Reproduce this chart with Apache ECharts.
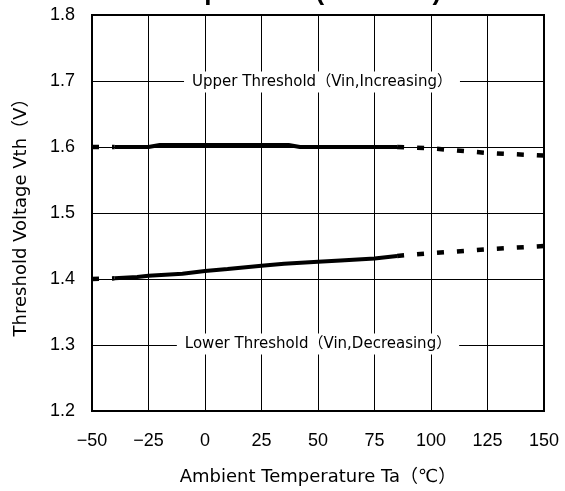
<!DOCTYPE html>
<html><head><meta charset="utf-8">
<script src="https://cdn.jsdelivr.net/npm/echarts@6/dist/echarts.min.js"></script>
<style>html,body{margin:0;padding:0;background:#fff}#c{width:565px;height:491px}</style>
</head><body><div id="c"></div>
<script>
// Data
const xTicks = [-50, -25, 0, 25, 50, 75, 100, 125, 150];
const yTicks = [1.2, 1.3, 1.4, 1.5, 1.6, 1.7, 1.8];
const startTemps = [-50, -40];
const upperStart = [1.600, 1.600];
const lowerStart = [1.400, 1.401];
const upperTemps = [-40, -25, -20, 0, 25, 37, 42, 60, 85];
const upperSolid = [1.600, 1.600, 1.603, 1.603, 1.603, 1.603, 1.600, 1.600, 1.600];
const lowerTemps = [-40, -30, -25, -10, 0, 10, 25, 35, 50, 60, 75, 85];
const lowerSolid = [1.401, 1.403, 1.405, 1.408, 1.412, 1.415, 1.420, 1.423, 1.426, 1.428, 1.431, 1.435];
const extTemps = [85, 100, 125, 150];
const upperExt = [1.600, 1.598, 1.591, 1.587];
const lowerExt = [1.435, 1.439, 1.445, 1.450];
const labelUpper = 'Upper Threshold（Vin,Increasing）';
const labelLower = 'Lower Threshold（Vin,Decreasing）';

const pair = (xs, ys) => xs.map((x, i) => [x, ys[i]]);
const FONT = '"Liberation Sans", Arial, "Noto Sans CJK JP", sans-serif';
const JFONT = '"DejaVu Sans", "Noto Sans CJK JP", sans-serif';

const chart = echarts.init(document.getElementById('c'));
const solid = {type: 'solid', width: 4, color: '#000'};
const dashed = {type: [7, 13], width: 4.5, color: '#000', cap: 'butt'};
const mk = (data, ls) => ({type: 'line', data, showSymbol: false, symbol: 'none', lineStyle: ls, silent: true, animation: false});

chart.setOption({
  animation: false,
  grid: {left: 92, right: 21, top: 15, bottom: 80, containLabel: false, outerBoundsMode: 'none'},
  xAxis: {
    type: 'value', min: -50, max: 150, interval: 25,
    axisLine: {show: false}, axisTick: {show: false},
    splitLine: {show: true, lineStyle: {color: '#000', width: 1}},
    axisLabel: {color: '#000', fontSize: 18, fontFamily: FONT, margin: 21,
      formatter: v => (v < 0 ? '\u2212' + Math.abs(v) : String(v))},
    name: 'Ambient Temperature Ta（℃）', nameLocation: 'middle', nameGap: 57,
    nameTextStyle: {color: '#000', fontSize: 18, fontFamily: JFONT}
  },
  yAxis: {
    type: 'value', min: 1.2, max: 1.8, interval: 0.1,
    axisLine: {show: false}, axisTick: {show: false},
    splitLine: {show: true, lineStyle: {color: '#000', width: 1}},
    axisLabel: {color: '#000', fontSize: 18, fontFamily: FONT, margin: 17,
      formatter: v => v.toFixed(1)},
    name: 'Threshold Voltage Vth（V）', nameLocation: 'middle', nameGap: 62,
    nameTextStyle: {color: '#000', fontSize: 18, fontFamily: JFONT}
  },
  series: [
    mk(pair(startTemps, upperStart), dashed),
    mk(pair(upperTemps, upperSolid), solid),
    mk(pair(extTemps, upperExt), dashed),
    mk(pair(startTemps, lowerStart), dashed),
    mk(pair(lowerTemps, lowerSolid), solid),
    mk(pair(extTemps, lowerExt), dashed)
  ]
});

const pU = chart.convertToPixel({gridIndex: 0}, [50, 1.7]);
const pL = chart.convertToPixel({gridIndex: 0}, [50, 1.3]);
const tl = chart.convertToPixel({gridIndex: 0}, [-50, 1.8]);
const br = chart.convertToPixel({gridIndex: 0}, [150, 1.2]);
chart.setOption({
  graphic: [
    {type: 'rect', shape: {x: tl[0], y: tl[1], width: br[0] - tl[0], height: br[1] - tl[1]},
      style: {fill: 'none', stroke: '#000', lineWidth: 2}, z: 100},
    {type: 'text', x: pU[0] + 4, y: pU[1] + 1, z: 100,
      style: {text: labelUpper, fill: '#000', font: '15px ' + JFONT, align: 'center', verticalAlign: 'middle',
        backgroundColor: '#fff', padding: [3, 8]}},
    {type: 'text', x: pL[0], y: pL[1] - 1, z: 100,
      style: {text: labelLower, fill: '#000', font: '15px ' + JFONT, align: 'center', verticalAlign: 'middle',
        backgroundColor: '#fff', padding: [3, 8]}},
    {type: 'text', x: 297, y: 6, z: 100,
      style: {text: 'Temperature (V+ = 12V)', fill: '#000', font: 'bold 26px ' + FONT, align: 'center', verticalAlign: 'bottom'}}
  ]
});
</script></body></html>
